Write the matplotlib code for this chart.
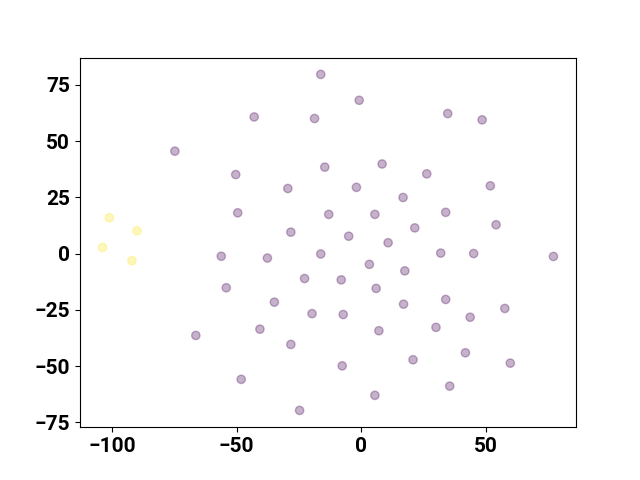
import numpy as np
import matplotlib
matplotlib.use("Agg")
import matplotlib.pyplot as plt

plt.rcParams['font.family'] = ['Roboto', 'DejaVu Sans']
plt.rcParams['font.weight'] = 'bold'
plt.rcParams['font.size'] = 15

# cluster 1 (yellow)
x_yellow = [-101.1, -90.0, -103.8, -92.0]
y_yellow = [15.9, 10.1, 2.7, -3.2]

# cluster 0 (purple)
x_purple = [-16.3, -0.9, -43.0, -18.8, 34.6, 48.4, -74.8, -50.4, -14.7, 8.3,
            -29.5, -2.0, 26.2, 51.7, -49.6, -13.1, 5.4, 16.7, 33.8, 54.0,
            -28.3, -5.1, 10.7, 21.4, -56.2, -37.7, -16.3, 3.2, 17.4, 31.8,
            45.0, 77.0, -54.2, -22.8, -8.1, 5.9, -34.9, -19.8, -7.3, 16.9,
            33.8, 57.5, -66.4, -40.7, -28.3, 7.0, 29.9, 43.6, 20.7, -7.7,
            41.7, 59.7, -48.2, 5.4, 35.4, -24.8]
y_purple = [79.6, 68.1, 60.7, 60.0, 62.2, 59.4, 45.5, 35.1, 38.4, 39.8,
            28.9, 29.4, 35.4, 30.1, 18.1, 17.4, 17.4, 24.9, 18.3, 12.8,
            9.5, 7.7, 4.8, 11.4, -1.2, -2.0, -0.2, -4.8, -7.7, 0.2,
            0.0, -1.3, -15.2, -11.1, -11.7, -15.5, -21.6, -26.7, -27.1, -22.5,
            -20.4, -24.4, -36.4, -33.6, -40.4, -34.3, -32.8, -28.3, -47.2, -49.9,
            -44.1, -48.7, -55.9, -63.0, -58.9, -69.7]

x = np.array(x_purple + x_yellow)
y = np.array(y_purple + y_yellow)
labels = np.array([0] * len(x_purple) + [1] * len(x_yellow))

fig = plt.figure(figsize=(6.4, 4.8), dpi=100)
plt.scatter(x, y, c=labels, cmap='viridis', alpha=0.3)
plt.savefig('out.png')
